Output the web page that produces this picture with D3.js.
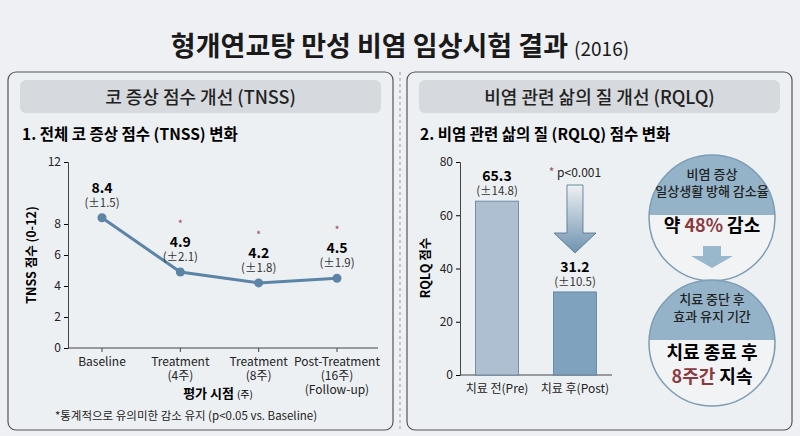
<!DOCTYPE html>
<html><head><meta charset="utf-8">
<script src="https://cdn.jsdelivr.net/npm/d3@7"></script>
<style>body{margin:0;background:#eef0f3}text{font-family:"Noto Sans CJK KR","Noto Sans",sans-serif}</style>
</head><body>
<script>
var timepoints = ["Baseline", "Treatment\n(4주)", "Treatment\n(8주)", "Post-Treatment\n(16주)\n(Follow-up)"];
var tnss = [8.4, 4.9, 4.2, 4.5];
var tnssSd = ["(±1.5)", "(±2.1)", "(±1.8)", "(±1.9)"];
var tnssSig = [false, true, true, true];
var tnssTicks = [0, 2, 4, 6, 8, 12];
var groups = ["치료 전(Pre)", "치료 후(Post)"];
var rqlq = [65.3, 31.2];
var rqlqSd = ["(±14.8)", "(±10.5)"];
var rqlqTicks = [0, 20, 40, 60, 80];

var svg = d3.select("body").append("svg").attr("width", 800).attr("height", 436);
var defs = svg.append("defs");
var g1 = defs.append("linearGradient").attr("id", "arr").attr("x1", 0).attr("y1", 0).attr("x2", 0).attr("y2", 1);
g1.append("stop").attr("offset", "0").attr("stop-color", "#eef0f3");
g1.append("stop").attr("offset", "1").attr("stop-color", "#6f93b0");

svg.append("rect").attr("width", 800).attr("height", 436).attr("fill", "#eef0f3");
svg.append("text").attr("x", 400).attr("y", 56).attr("text-anchor", "middle")
  .attr("font-size", 27).attr("font-weight", 700).attr("fill", "#1a1a1a")
  .text("형개연교탕 만성 비염 임상시험 결과 ").append("tspan").attr("font-size", 19).attr("font-weight", 400).text("(2016)");

// panels
[[8, 393, "코 증상 점수 개선 (TNSS)"], [407, 792, "비염 관련 삶의 질 개선 (RQLQ)"]].forEach(function (p) {
  svg.append("rect").attr("x", p[0]).attr("y", 72).attr("width", p[1] - p[0]).attr("height", 358).attr("rx", 8)
    .attr("fill", "#edf0f3").attr("stroke", "#555").attr("stroke-width", 1.2);
  svg.append("rect").attr("x", p[0] + 12).attr("y", 80).attr("width", p[1] - p[0] - 24).attr("height", 33).attr("rx", 6)
    .attr("fill", "#d6d9dd");
  svg.append("text").attr("x", (p[0] + p[1]) / 2).attr("y", 104).attr("text-anchor", "middle")
    .attr("font-size", 18).attr("font-weight", 500).attr("fill", "#222").text(p[2]);
});
svg.append("line").attr("x1", 400).attr("x2", 400).attr("y1", 72).attr("y2", 430)
  .attr("stroke", "#999").attr("stroke-dasharray", "3,3");

svg.append("text").attr("x", 22).attr("y", 140).attr("font-size", 15.5).attr("font-weight", 700).text("1. 전체 코 증상 점수 (TNSS) 변화");
svg.append("text").attr("x", 420).attr("y", 140).attr("font-size", 15.5).attr("font-weight", 700).text("2. 비염 관련 삶의 질 (RQLQ) 점수 변화");

// left line chart
var x = d3.scalePoint().domain(d3.range(4)).range([102, 337]);
var y = d3.scaleLinear().domain([0, 12]).range([348, 162]);
var la = svg.append("g").attr("transform", "translate(68,0)")
  .call(d3.axisLeft(y).tickValues(tnssTicks).tickSize(4));
la.selectAll("text").attr("font-size", 12).attr("fill", "#222");
la.select(".domain").attr("stroke", "#444");
var bx = svg.append("g").attr("transform", "translate(0,348)");
bx.append("line").attr("x1", 68).attr("x2", 378).attr("stroke", "#444");
timepoints.forEach(function (t, i) {
  bx.append("line").attr("x1", x(i)).attr("x2", x(i)).attr("y2", 4).attr("stroke", "#444");
  t.split("\n").forEach(function (s, j) {
    bx.append("text").attr("x", x(i)).attr("y", 18 + j * 14).attr("text-anchor", "middle")
      .attr("font-size", 12).attr("fill", "#222").text(s);
  });
});
svg.append("text").attr("transform", "translate(36,255) rotate(-90)").attr("text-anchor", "middle")
  .attr("font-size", 12.5).attr("font-weight", 700).text("TNSS 점수 (0-12)");
svg.append("text").attr("x", 218).attr("y", 398).attr("text-anchor", "middle").attr("font-size", 13).attr("font-weight", 700)
  .text("평가 시점 ").append("tspan").attr("font-size", 10).attr("font-weight", 400).text("(주)");
svg.append("text").attr("x", 186).attr("y", 420).attr("text-anchor", "middle").attr("font-size", 11.5).attr("fill", "#222")
  .text("*통계적으로 유의미한 감소 유지 (p<0.05 vs. Baseline)");

svg.append("path").datum(tnss).attr("fill", "none").attr("stroke", "#5b84a6").attr("stroke-width", 3)
  .attr("d", d3.line().x(function (d, i) { return x(i); }).y(function (d) { return y(d); }));
tnss.forEach(function (v, i) {
  svg.append("circle").attr("cx", x(i)).attr("cy", y(v)).attr("r", 4.5).attr("fill", "#5b84a6");
  svg.append("text").attr("x", x(i)).attr("y", y(v) - 25).attr("text-anchor", "middle").attr("font-size", 14).attr("font-weight", 700).text(v.toFixed(1));
  svg.append("text").attr("x", x(i)).attr("y", y(v) - 11).attr("text-anchor", "middle").attr("font-size", 11.5).attr("fill", "#333").text(tnssSd[i]);
  if (tnssSig[i]) svg.append("text").attr("x", x(i)).attr("y", y(v) - 44).attr("text-anchor", "middle").attr("font-size", 11).attr("fill", "#a05060").text("*");
});

// right bar chart
var xb = d3.scaleBand().domain(groups).range([460, 612]).paddingInner(0.45).paddingOuter(0.2);
var yb = d3.scaleLinear().domain([0, 80]).range([375, 162]);
var ra = svg.append("g").attr("transform", "translate(460,0)").call(d3.axisLeft(yb).tickValues(rqlqTicks).tickSize(4));
ra.selectAll("text").attr("font-size", 12).attr("fill", "#222");
ra.select(".domain").attr("stroke", "#444");
svg.append("line").attr("x1", 460).attr("x2", 612).attr("y1", 375).attr("y2", 375).attr("stroke", "#444");
svg.append("text").attr("transform", "translate(430,268) rotate(-90)").attr("text-anchor", "middle")
  .attr("font-size", 12.5).attr("font-weight", 700).text("RQLQ 점수");
var colors = ["#aebfd2", "#7fa3bf"];
groups.forEach(function (gname, i) {
  var v = rqlq[i], bx0 = xb(gname);
  svg.append("rect").attr("x", bx0).attr("y", yb(v)).attr("width", xb.bandwidth()).attr("height", yb(0) - yb(v))
    .attr("fill", colors[i]).attr("stroke", "#5a7d9a").attr("stroke-width", 0.8);
  svg.append("text").attr("x", bx0 + xb.bandwidth() / 2).attr("y", yb(v) - 20).attr("text-anchor", "middle").attr("font-size", 14).attr("font-weight", 700).text(v.toFixed(1));
  svg.append("text").attr("x", bx0 + xb.bandwidth() / 2).attr("y", yb(v) - 6).attr("text-anchor", "middle").attr("font-size", 11.5).attr("fill", "#333").text(rqlqSd[i]);
  svg.append("text").attr("x", bx0 + xb.bandwidth() / 2).attr("y", 393).attr("text-anchor", "middle").attr("font-size", 12).attr("fill", "#222").text(gname);
});
var ax = xb(groups[1]) + xb.bandwidth() / 2;
svg.append("text").attr("x", ax).attr("y", 177).attr("text-anchor", "middle").attr("font-size", 12).attr("fill", "#222")
  .html('<tspan fill="#a05060">*</tspan> p&lt;0.001');
svg.append("path").attr("d", "M" + (ax - 8) + ",185 h16 v48 h13 l-21,20 l-21,-20 h13 z")
  .attr("fill", "url(#arr)").attr("stroke", "#4d6f8c").attr("stroke-width", 0.8);

// info circles
function circle(cy, header, id) {
  var cx = 712, r = 63;
  defs.append("clipPath").attr("id", id).append("circle").attr("cx", cx).attr("cy", cy).attr("r", r);
  svg.append("circle").attr("cx", cx).attr("cy", cy).attr("r", r).attr("fill", "#f1f3f5");
  svg.append("rect").attr("x", cx - r).attr("y", cy - r).attr("width", 2 * r).attr("height", 60).attr("fill", "#94b3c9").attr("clip-path", "url(#" + id + ")");
  svg.append("circle").attr("cx", cx).attr("cy", cy).attr("r", r).attr("fill", "none").attr("stroke", "#7d9db5").attr("stroke-width", 1.5);
  header.forEach(function (s, j) {
    svg.append("text").attr("x", cx).attr("y", cy - r + 24 + j * 17).attr("text-anchor", "middle").attr("font-size", 13).attr("font-weight", 500).attr("fill", "#222").text(s);
  });
}
circle(218, ["비염 증상", "일상생활 방해 감소율"], "c1");
svg.append("text").attr("x", 712).attr("y", 232).attr("text-anchor", "middle").attr("font-size", 18).attr("font-weight", 700)
  .html('약 <tspan fill="#8b3a3e">48%</tspan> 감소');
svg.append("path").attr("d", "M703,246 h18 v10 h12 l-21,12 l-21,-12 h12 z").attr("fill", "#9ab8cc");
circle(343, ["치료 중단 후", "효과 유지 기간"], "c2");
svg.append("text").attr("x", 712).attr("y", 359).attr("text-anchor", "middle").attr("font-size", 18).attr("font-weight", 700).text("치료 종료 후");
svg.append("text").attr("x", 712).attr("y", 383).attr("text-anchor", "middle").attr("font-size", 18).attr("font-weight", 700)
  .html('<tspan fill="#8b3a3e">8주간</tspan> 지속');
</script>
</body></html>
